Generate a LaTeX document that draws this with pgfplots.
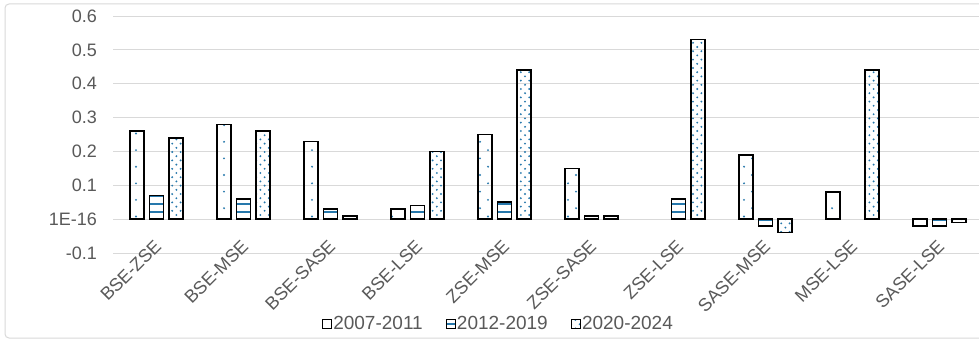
\documentclass[border=0pt]{standalone}
\usepackage{pgfplots}
\pgfplotsset{compat=1.18}
\usepackage{fontspec}
\setmainfont{Liberation Sans}
\usetikzlibrary{patterns}
\definecolor{pblue}{RGB}{38,120,172}
\definecolor{tgray}{RGB}{89,89,89}
\definecolor{ggray}{RGB}{217,217,217}
\pgfdeclarepatternformonly{densedots}{\pgfqpoint{-1.2pt}{-1.2pt}}{\pgfqpoint{7.2pt}{7.2pt}}{\pgfqpoint{8.4pt}{8.4pt}}{%
 \pgfpathcircle{\pgfqpoint{0pt}{0pt}}{1.05pt}%
 \pgfpathcircle{\pgfqpoint{4.2pt}{4.2pt}}{1.05pt}%
 \pgfusepath{fill}}
\pgfdeclarepatternformonly{sparsedots}{\pgfqpoint{-1.2pt}{-1.2pt}}{\pgfqpoint{14.8pt}{15.4pt}}{\pgfqpoint{16pt}{16.6pt}}{%
 \pgfpathcircle{\pgfqpoint{0pt}{0pt}}{1.05pt}%
 \pgfpathcircle{\pgfqpoint{8pt}{8.3pt}}{1.05pt}%
 \pgfusepath{fill}}
\pgfdeclarepatternformonly{hlines}{\pgfqpoint{0pt}{-1pt}}{\pgfqpoint{1pt}{7pt}}{\pgfqpoint{1pt}{8pt}}{%
 \pgfpathrectangle{\pgfqpoint{0pt}{0pt}}{\pgfqpoint{1pt}{1.6pt}}\pgfusepath{fill}}
\pgfplotsset{sqlegend/.style={legend image code/.code={\draw[##1,line width=1.2pt] (0pt,-4.5pt) rectangle (9pt,4.5pt);}}}
\begin{document}
\begin{tikzpicture}[x=1pt,y=1pt]
\useasboundingbox (0,0) rectangle (979,341);
\clip (0,0) rectangle (979,341);
\fill[white] (0,0) rectangle (979,341);
\draw[ggray, line width=1pt, rounded corners=4pt] (5,3) rectangle (1000,337);
\begin{axis}[
  at={(113pt,88pt)}, anchor=south west,
  scale only axis, width=870pt, height=237pt,
  xmin=-0.5, xmax=9.5, ymin=-0.1, ymax=0.6,
  ybar=5.5pt, bar width=14pt,
  axis line style={draw=none},
  major tick length=0pt,
  ymajorgrids, grid style={ggray, line width=1pt},
  ytick={-0.1,0,0.1,0.2,0.3,0.4,0.5,0.6},
  yticklabels={-0.1,1E-16,0.1,0.2,0.3,0.4,0.5,0.6},
  xtick={0,1,2,3,4,5,6,7,8,9},
  xticklabels={BSE-ZSE,BSE-MSE,BSE-SASE,BSE-LSE,ZSE-MSE,ZSE-SASE,ZSE-LSE,SASE-MSE,MSE-LSE,SASE-LSE},
  tick label style={font=\fontsize{18}{21}\selectfont, text=tgray},
  yticklabel style={anchor=east, inner sep=0pt, xshift=-16pt},
  xticklabel style={xshift=1.5pt, yshift=10pt, rotate=45, anchor=east, inner sep=0pt},
  legend columns=3,
  legend style={draw=none, fill=none, at={(0.4425,-0.2996)}, anchor=center,
    font=\fontsize{19}{22}\selectfont, text=tgray,
    nodes={inner sep=1pt},
    /tikz/every even column/.append style={column sep=22pt}},
  legend cell align=left,
]
\addplot[draw=black, line width=1.5pt, pattern=sparsedots, pattern color=pblue, sqlegend]
  coordinates {(0,0.26)(1,0.28)(2,0.23)(3,0.03)(4,0.25)(5,0.15)(7,0.19)(8,0.08)(9,-0.02)};
\addlegendentry{2007-2011}
\addplot[draw=black, line width=1.5pt, pattern=hlines, pattern color=pblue, sqlegend]
  coordinates {(0,0.07)(1,0.06)(2,0.03)(3,0.04)(4,0.05)(5,0.01)(6,0.06)(7,-0.02)(9,-0.02)};
\addlegendentry{2012-2019}
\addplot[draw=black, line width=1.5pt, pattern=densedots, pattern color=pblue, sqlegend]
  coordinates {(0,0.24)(1,0.26)(2,0.01)(3,0.20)(4,0.44)(5,0.01)(6,0.53)(7,-0.04)(8,0.44)(9,-0.01)};
\addlegendentry{2020-2024}
\end{axis}
\end{tikzpicture}
\end{document}
